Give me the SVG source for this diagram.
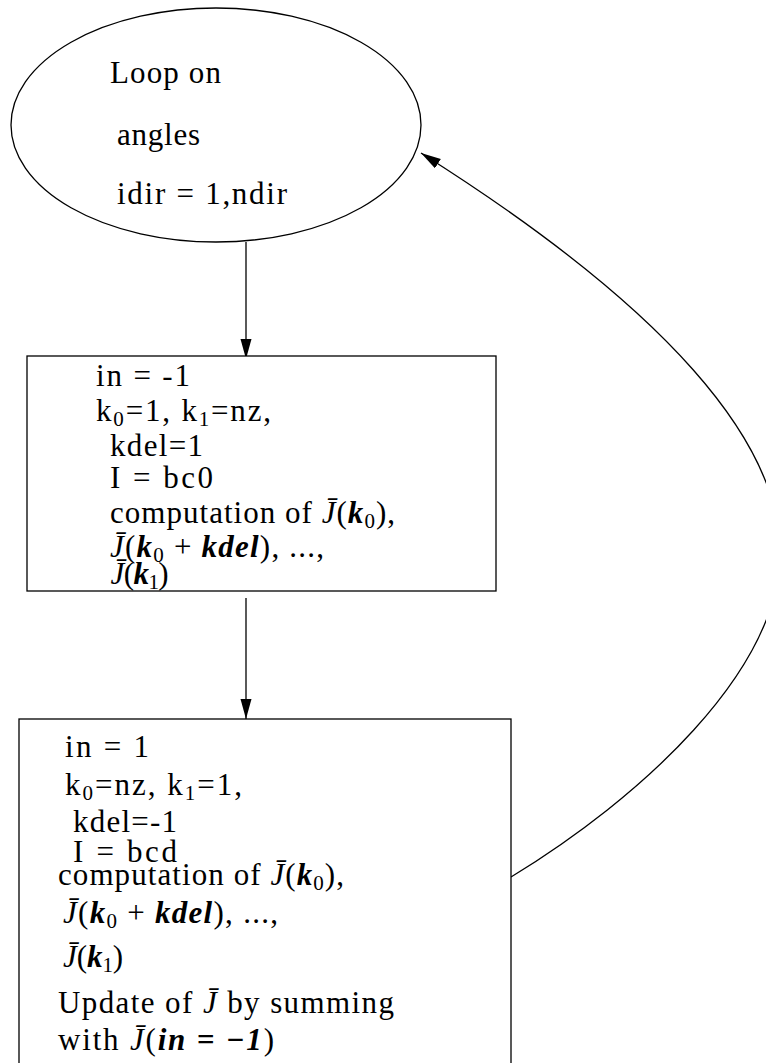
<svg xmlns="http://www.w3.org/2000/svg" width="766" height="1063" viewBox="0 0 766 1063">
<style>
.shape{fill:#fff;stroke:#000;stroke-width:1.3}
.edge{fill:none;stroke:#000;stroke-width:1.3}
text{font-family:"Liberation Serif","DejaVu Serif",serif;font-size:31px;fill:#000}
.m{font-style:italic}
.b{font-style:italic;font-weight:bold}
.s{font-size:21px}
</style>
<defs>
<marker id="arrow" markerUnits="userSpaceOnUse" markerWidth="21" markerHeight="12" refX="20" refY="5.5" orient="auto">
<path d="M0,0 L20,5.5 L0,11 z" fill="#000"/>
</marker>
</defs>
<rect width="766" height="1063" fill="#fff"/>
<g id="connectors">
<line class="edge" x1="246" y1="242" x2="246" y2="359" marker-end="url(#arrow)"/>
<line class="edge" x1="246" y1="598" x2="246" y2="719" marker-end="url(#arrow)"/>
<path class="edge" d="M511,877 C639,799 780,672 780,552 C780,442 668,309 421,153" marker-end="url(#arrow)"/>
</g>
<g id="node-loop">
<ellipse class="shape" cx="216" cy="125" rx="205" ry="117"/>
<text x="110" y="83" textLength="111">Loop on</text>
<text x="117" y="145" textLength="83">angles</text>
<text x="117" y="204" textLength="170">idir = 1,ndir</text>
</g>
<g id="node-forward">
<rect class="shape" x="27" y="356" width="469" height="235"/>
<text x="96" y="386" textLength="94">in = -1</text>
<text x="96" y="421" textLength="175">k<tspan class="s" dy="5">0</tspan><tspan dy="-5">=1, k</tspan><tspan class="s" dy="5">1</tspan><tspan dy="-5">=nz,</tspan></text>
<text x="110" y="456" textLength="93">kdel=1</text>
<text x="110" y="488" textLength="103">I = bc0</text>
<text x="110" y="523" textLength="285">computation of <tspan class="m">J̄</tspan>(<tspan class="b">k</tspan><tspan class="s" dy="5">0</tspan><tspan dy="-5">),</tspan></text>
<text x="110" y="557" textLength="214"><tspan class="m">J̄</tspan>(<tspan class="b">k</tspan><tspan class="s" dy="5">0</tspan><tspan dy="-5"> + </tspan><tspan class="b">kdel</tspan>), ...,</text>
<text x="110" y="584" textLength="58"><tspan class="m">J̄</tspan>(<tspan class="b">k</tspan><tspan class="s" dy="5">1</tspan><tspan dy="-5">)</tspan></text>
</g>
<g id="node-backward">
<rect class="shape" x="19" y="719" width="492" height="370"/>
<text x="65" y="757" textLength="84">in = 1</text>
<text x="65" y="795" textLength="177">k<tspan class="s" dy="5">0</tspan><tspan dy="-5">=nz, k</tspan><tspan class="s" dy="5">1</tspan><tspan dy="-5">=1,</tspan></text>
<text x="73" y="832" textLength="104">kdel=-1</text>
<text x="73" y="862" textLength="104">I = bcd</text>
<text x="58" y="885" textLength="286">computation of <tspan class="m">J̄</tspan>(<tspan class="b">k</tspan><tspan class="s" dy="5">0</tspan><tspan dy="-5">),</tspan></text>
<text x="63" y="923" textLength="215"><tspan class="m">J̄</tspan>(<tspan class="b">k</tspan><tspan class="s" dy="5">0</tspan><tspan dy="-5"> + </tspan><tspan class="b">kdel</tspan>), ...,</text>
<text x="63" y="967" textLength="60"><tspan class="m">J̄</tspan>(<tspan class="b">k</tspan><tspan class="s" dy="5">1</tspan><tspan dy="-5">)</tspan></text>
<text x="58" y="1013" textLength="336">Update of <tspan class="m">J̄</tspan> by summing</text>
<text x="58" y="1050" textLength="216">with <tspan class="m">J̄</tspan>(<tspan class="b">in</tspan> <tspan class="b">=</tspan> <tspan class="b">−1</tspan>)</text>
</g>
</svg>
